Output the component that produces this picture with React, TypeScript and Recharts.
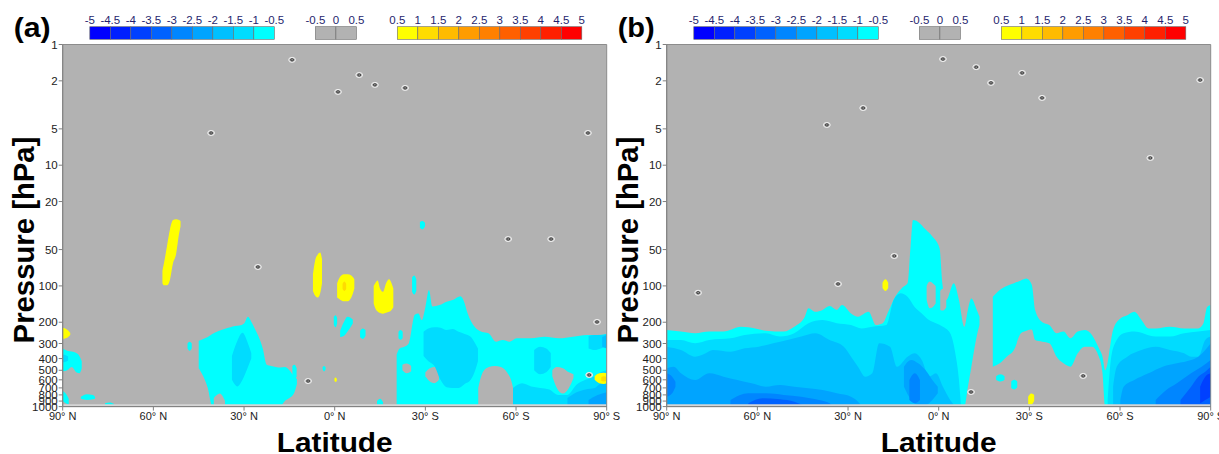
import React from 'react';
import { ComposedChart, Area, XAxis, YAxis, CartesianGrid, Scatter, ReferenceArea } from 'recharts';

type Pt = [number, number, number]; // [latitude, lower pressure (bottom), upper pressure (top)]

const FONT = "'Liberation Sans', Arial, Helvetica, sans-serif";
const GRAY = '#b2b2b2';

const LAT_TICKS = [90, 60, 30, 0, -30, -60, -90];
const P_TICKS = [1, 2, 5, 10, 20, 50, 100, 200, 300, 400, 500, 600, 700, 800, 900, 1000];

const NEG_LABELS = ['-5', '-4.5', '-4', '-3.5', '-3', '-2.5', '-2', '-1.5', '-1', '-0.5'];
const NEG_COLORS = ['#0000ff', '#0020ff', '#0040ff', '#0062ff', '#0086ff', '#00a4ff', '#00c0ff', '#00dcff', '#00ffff'];
const MID_LABELS = ['-0.5', '0', '0.5'];
const MID_COLORS = [GRAY, GRAY];
const POS_LABELS = ['0.5', '1', '1.5', '2', '2.5', '3', '3.5', '4', '4.5', '5'];
const POS_COLORS = ['#ffff00', '#ffdc00', '#ffbb00', '#ff9c00', '#ff8000', '#ff6000', '#ff4000', '#ff2000', '#ff0000'];

// ---------------- Panel (a) ----------------
const A_CYAN: Pt[][] = [
  [[90, 510, 330], [88.5, 500, 345], [87, 470, 350], [85.5, 520, 360], [84.5, 530, 380], [83.7, 480, 420]],
  [[90, 900, 740], [89, 940, 780], [88, 960, 860]],
  [[84, 860, 830], [82, 880, 790], [80, 870, 800], [79.3, 860, 830]],
  [[76, 990, 940], [74.5, 1000, 925], [73, 990, 950]],
  [[48.7, 330, 300], [48, 345, 290], [47.3, 330, 300]],
  [[45.0, 480, 285], [43.5, 560, 275], [42.0, 700, 265], [40.5, 1000, 250], [39.0, 1000, 240], [37.5, 1000, 232],
   [36.0, 1000, 225], [34.5, 1000, 220], [33.0, 1000, 215], [31.5, 1000, 213], [30.0, 1000, 205], [28.7, 1000, 180],
   [27.5, 1000, 200], [26.3, 1000, 230], [25.0, 1000, 270], [23.8, 1000, 330], [22.5, 1000, 450], [21.0, 1000, 460],
   [19.5, 1000, 470], [18.0, 1000, 475], [16.5, 900, 470], [15.0, 850, 500], [13.5, 780, 560], [12.5, 650, 590]],
  [[14, 560, 460], [13.3, 600, 450], [12.6, 560, 480]],
  [[4, 490, 470], [3.5, 510, 460], [3, 490, 475]],
  [[0.3, 210, 180], [-0.3, 220, 175], [-0.8, 205, 185]],
  [[-1.8, 265, 235], [-3, 260, 200], [-4.2, 240, 180], [-5.5, 215, 185], [-6, 205, 190]],
  [[-8.4, 265, 235], [-9.3, 275, 225], [-10.2, 260, 232]],
  [[-14, 1000, 900], [-15, 1000, 860], [-16, 1000, 920]],
  [[-21.1, 272, 240], [-21.8, 280, 232], [-22.5, 270, 240]],
  [[-25.6, 112, 85], [-26.3, 118, 82], [-27, 110, 88]],
  [[-28.2, 33, 29.5], [-29, 34, 29], [-29.9, 32, 30]],
  [[-20.5, 1000, 370], [-21.5, 1000, 330], [-23, 1000, 320], [-24.5, 1000, 300], [-26.5, 1000, 173], [-27.7, 1000, 169],
   [-28.8, 1000, 192], [-30, 1000, 150], [-31.2, 1000, 108], [-32.3, 1000, 148], [-34.7, 1000, 144], [-37, 1000, 135],
   [-39.3, 1000, 130], [-41.6, 1000, 122], [-42.8, 1000, 135], [-44, 1000, 169], [-46.3, 1000, 218], [-48.6, 1000, 240],
   [-50.9, 1000, 247], [-53.3, 1000, 290], [-55.6, 1000, 281], [-57.9, 1000, 290], [-60.2, 1000, 272], [-64.9, 1000, 272],
   [-69.5, 1000, 264], [-74.2, 1000, 272], [-78.8, 1000, 264], [-83.5, 1000, 255], [-87, 1000, 255], [-90, 1000, 250]],
];
const A_GAPS: Pt[][] = [
  [[40, 1000, 850], [38, 1000, 780], [36.3, 1000, 900]],
  [[-22.4, 500, 450], [-23.8, 530, 440], [-25.3, 510, 460]],
  [[-30, 560, 520], [-31.5, 620, 480], [-33, 640, 470], [-34.5, 600, 500]],
  [[-47.5, 1000, 700], [-49, 1000, 520], [-51, 1000, 470], [-53, 1000, 460], [-55, 1000, 470], [-57, 1000, 520], [-58.5, 1000, 620], [-59.5, 1000, 800]],
  [[-72, 560, 500], [-73.5, 700, 470], [-75.5, 780, 480], [-77.5, 700, 520], [-79, 580, 540]],
];
const A_L2: Pt[][] = [
  [[90, 430, 370], [89, 425, 375], [88.2, 415, 385]],
  [[34, 600, 380], [32.2, 680, 285], [30.5, 600, 245], [28.7, 470, 300], [27.6, 400, 360]],
  [[-29.4, 380, 240], [-31, 420, 225], [-33, 460, 220], [-35, 600, 222], [-37, 690, 232], [-39, 700, 228], [-41, 700, 240],
   [-43, 650, 250], [-45, 600, 264], [-46.5, 500, 300], [-47.4, 420, 330]],
  [[-66, 500, 340], [-68, 540, 320], [-70, 520, 330], [-71.5, 470, 360]],
  [[-84, 330, 260], [-86, 340, 255], [-88, 330, 255], [-90, 320, 250]],
  [[-59, 1000, 700], [-62, 1000, 640], [-65, 1000, 680], [-68, 1000, 700], [-71, 1000, 720], [-74, 1000, 800], [-77, 1000, 800],
   [-80, 1000, 660], [-83, 1000, 600], [-86, 1000, 560], [-88, 1000, 520], [-90, 1000, 500]],
];
const A_L3: Pt[][] = [
  [[-77, 1000, 850], [-80, 1000, 760], [-83, 1000, 720], [-86, 1000, 700], [-88, 1000, 640], [-90, 1000, 600]],
  [[-88.5, 320, 265], [-90, 330, 255]],
];
const A_L4: Pt[][] = [
  [[-84, 1000, 880], [-87, 1000, 800], [-90, 1000, 760]],
];
const A_YELLOW: Pt[][] = [
  [[57, 95, 75], [56.5, 99, 65], [55.5, 99, 47], [54.5, 89, 34], [53.5, 65, 28.5], [52.5, 55, 28], [51.5, 37, 28.5], [51, 32, 29]],
  [[7.2, 110, 80], [6.5, 120, 62], [5.6, 125, 55], [4.8, 115, 53], [4.2, 95, 60]],
  [[-0.8, 125, 95], [-1.8, 130, 84], [-3, 134, 80], [-4.3, 134, 80], [-5.5, 125, 82], [-6.5, 105, 88]],
  [[-12.9, 140, 100], [-13.5, 155, 94], [-14.2, 163, 90], [-15, 168, 105], [-16, 170, 112], [-17, 167, 95], [-18, 164, 88], [-18.8, 158, 95], [-19.4, 150, 105]],
  [[90, 275, 222], [89, 272, 226], [88, 262, 236], [87.5, 255, 245]],
  [[0.1, 615, 585], [-0.3, 625, 575], [-0.7, 610, 590]],
  [[-86, 600, 560], [-87.5, 640, 530], [-89, 650, 525], [-90, 640, 530]],
];
const A_ORANGE: Pt[][] = [
  [[-2.6, 106, 96], [-3.2, 110, 92], [-3.8, 106, 96]],
  [[-88.2, 610, 570], [-89, 620, 560], [-90, 610, 565]],
];
const A_ZERO_LAT = [14.1, -8.1, -1.1, -13.3, -23.3, 40.9, -83.8, -57.4, -71.6, 25.4, -86.8, 8.8, -84.2];
const A_ZERO_P = [1.34, 1.79, 2.47, 2.16, 2.29, 5.41, 5.41, 40.9, 40.9, 69.7, 199, 614, 547];

// ---------------- Panel (b) ----------------
const B_CYAN: Pt[][] = [
  [[90, 1000, 232], [85.3, 1000, 239], [80.6, 1000, 247], [75.9, 1000, 239], [71.2, 1000, 239], [65.4, 1000, 218], [60.7, 1000, 225],
   [57.2, 1000, 235], [51.3, 1000, 239], [47.8, 1000, 218], [44.3, 1000, 180], [43.1, 1000, 153], [40.8, 1000, 164], [38.4, 1000, 158],
   [36.1, 1000, 147], [33.7, 1000, 158], [32.0, 1000, 144], [29.0, 1000, 169], [26.7, 1000, 180], [23.2, 1000, 164], [20.8, 1000, 211],
   [18.5, 1000, 204], [16.7, 1000, 164], [14.4, 1000, 123], [12.0, 1000, 103], [10.3, 1000, 95], [9.3, 1000, 47], [8.5, 1000, 28.5],
   [6.8, 1000, 29.5], [4.4, 1000, 34], [2.1, 1000, 39], [-0.3, 1000, 49], [-1.2, 1000, 95], [-2.5, 1000, 131], [-5.0, 1000, 95],
   [-6.7, 1000, 131], [-8.5, 1000, 218], [-9.6, 700, 160], [-10.8, 470, 127], [-12.6, 260, 158], [-13.5, 210, 180]],
  [[-17.9, 467, 123], [-20.2, 438, 108], [-22.5, 386, 100], [-24.9, 340, 95], [-27.2, 247, 90], [-29.0, 235, 87], [-30.8, 230, 98],
   [-31.9, 281, 158], [-34.3, 290, 200], [-36.6, 299, 211], [-39.0, 386, 247], [-41.3, 438, 239], [-43.6, 467, 272], [-46.0, 362, 239],
   [-48.3, 319, 232], [-50.7, 319, 255], [-53.0, 386, 329], [-54.2, 530, 386], [-55.1, 1000, 500], [-57.7, 1000, 232], [-60.1, 1000, 186],
   [-62.4, 1000, 175], [-64.7, 1000, 164], [-67.1, 1000, 192], [-69.4, 1000, 225], [-71.8, 1000, 225], [-76.5, 1000, 218],
   [-81.2, 1000, 225], [-85.9, 1000, 225], [-87.6, 1000, 204], [-88.8, 1000, 150], [-90, 1000, 144]],
  [[-19.0, 602, 560], [-20.5, 620, 540], [-21.8, 600, 560]],
  [[-24.0, 700, 620], [-25.0, 720, 600], [-26.0, 690, 620]],
];
const B_GAPS: Pt[][] = [
  [[4.0, 130, 100], [3.0, 153, 92], [2.0, 150, 95], [1.0, 140, 100]],
  [[-0.5, 158, 110], [-1.5, 160, 105], [-2.5, 150, 115]],
];
const B_L2: Pt[][] = [
  [[90, 1000, 281], [85.3, 1000, 281], [80.6, 1000, 299], [75.9, 1000, 281], [68.9, 1000, 272], [64.2, 1000, 255], [57.2, 1000, 247],
   [52.5, 1000, 263], [47.8, 1000, 247], [43.1, 1000, 204], [38.4, 1000, 192], [33.7, 1000, 204], [29.0, 1000, 211], [25.5, 1000, 225],
   [22.0, 1000, 218], [17.3, 1000, 211], [14.9, 1000, 131], [12.6, 1000, 115], [10.3, 1000, 123], [7.9, 1000, 150], [5.6, 1000, 169],
   [3.2, 1000, 192], [0.9, 1000, 204], [-1.4, 1000, 218], [-3.8, 1000, 247], [-5.5, 1000, 362], [-6.7, 1000, 602], [-7.3, 1000, 939]],
  [[-55.9, 1000, 881], [-57.1, 1000, 386], [-58.9, 1000, 281], [-61.2, 1000, 247], [-64.7, 1000, 239], [-71.8, 1000, 263],
   [-76.5, 1000, 263], [-81.2, 1000, 247], [-85.9, 1000, 239], [-90, 1000, 232]],
];
const B_L3: Pt[][] = [
  [[90, 1000, 319], [85.3, 1000, 340], [80.6, 1000, 386], [77.1, 1000, 362], [74.8, 1000, 340], [68.9, 1000, 351], [64.2, 1000, 329],
   [59.5, 1000, 319], [54.8, 1000, 299], [50.1, 1000, 281], [45.5, 1000, 263], [40.8, 1000, 247], [36.1, 1000, 281], [31.4, 1000, 319],
   [29.0, 1000, 386], [26.7, 1000, 467], [24.3, 1000, 565], [22.0, 1000, 530], [19.7, 1000, 299], [16.1, 1000, 319], [13.8, 1000, 467],
   [10.3, 1000, 386], [7.9, 1000, 362], [5.6, 1000, 411], [3.2, 1000, 565], [0.9, 1000, 530], [-1.4, 1000, 684], [-3.8, 1000, 881], [-5.0, 1000, 970]],
  [[-57.7, 1000, 684], [-58.9, 1000, 467], [-62.4, 1000, 386], [-67.1, 1000, 340], [-71.8, 1000, 319], [-76.5, 1000, 340],
   [-81.2, 1000, 362], [-83.5, 1000, 386], [-85.9, 1000, 386], [-88.2, 1000, 281], [-90, 1000, 263]],
];
const B_L4: Pt[][] = [
  [[90, 1000, 482], [87.7, 1000, 467], [85.3, 1000, 530], [80.6, 1000, 602], [75.9, 1000, 530], [71.2, 1000, 565], [66.6, 1000, 602],
   [61.9, 1000, 641], [57.2, 1000, 684], [52.5, 1000, 662], [47.8, 1000, 684], [43.1, 1000, 706], [38.4, 1000, 728], [33.7, 1000, 776],
   [29.0, 1000, 827], [26.7, 1000, 910], [25.5, 1000, 990]],
  [[11.5, 684, 467], [9.1, 881, 411], [6.8, 970, 438], [4.4, 970, 498], [2.1, 881, 602], [0.3, 776, 684]],
  [[-60.1, 1000, 881], [-61.2, 1000, 684], [-64.7, 1000, 602], [-69.4, 1000, 530], [-74.1, 1000, 467], [-78.8, 1000, 438],
   [-83.5, 1000, 411], [-85.9, 1000, 386], [-88.2, 1000, 340], [-90, 1000, 299]],
];
const B_L5: Pt[][] = [
  [[90, 827, 530], [88.2, 776, 565], [87.1, 684, 621]],
  [[68.9, 1000, 881], [63.0, 1000, 776], [57.2, 1000, 776], [51.3, 1000, 800], [45.5, 1000, 827], [39.6, 1000, 881], [36.1, 1000, 939], [35, 1000, 990]],
  [[9.7, 881, 602], [7.9, 939, 530], [6.2, 881, 602]],
  [[-71.8, 1000, 881], [-75.3, 1000, 728], [-78.8, 1000, 641], [-83.5, 1000, 530], [-87.0, 1000, 467], [-90, 1000, 411]],
];
const B_L6: Pt[][] = [
  [[63, 1000, 939], [58.3, 1000, 854], [52.5, 1000, 870], [47.8, 1000, 910], [44.3, 1000, 990]],
  [[-80, 1000, 881], [-83.5, 1000, 684], [-85.9, 1000, 565], [-88.2, 1000, 514], [-90, 1000, 467]],
];
const B_L7: Pt[][] = [
  [[-86.5, 939, 684], [-88.2, 881, 565], [-90, 827, 530]],
];
const B_YELLOW: Pt[][] = [
  [[18.6, 104, 94], [17.6, 110, 88], [16.7, 104, 94]],
  [[-29.6, 950, 830], [-30.6, 965, 780], [-31.6, 900, 800]],
];
const B_ZERO_LAT = [-1.4, -12.4, -27.6, -17.3, -34.2, 25, 37, -86.5, -70, 79.6, 33.3, 14.7, -10.7, -47.8];
const B_ZERO_P = [1.32, 1.54, 1.72, 2.08, 2.77, 3.36, 4.64, 1.97, 8.71, 114, 96.4, 56.5, 757, 557];

// level: -1..-7 = negative bands (cyan → blue), 0 = gray gap, 1..2 = positive bands
function levelColor(level: number): string {
  if (level === 0) return GRAY;
  if (level < 0) return NEG_COLORS[NEG_COLORS.length + level];
  return POS_COLORS[level - 1];
}

type Layer = { level: number; patches: Pt[][] };

const PANEL_A: Layer[] = [
  { level: -1, patches: A_CYAN },
  { level: 0, patches: A_GAPS },
  { level: -2, patches: A_L2 },
  { level: -3, patches: A_L3 },
  { level: -4, patches: A_L4 },
  { level: 1, patches: A_YELLOW },
  { level: 2, patches: A_ORANGE },
];
const PANEL_B: Layer[] = [
  { level: -1, patches: B_CYAN },
  { level: 0, patches: B_GAPS },
  { level: -2, patches: B_L2 },
  { level: -3, patches: B_L3 },
  { level: -4, patches: B_L4 },
  { level: -5, patches: B_L5 },
  { level: -6, patches: B_L6 },
  { level: -7, patches: B_L7 },
  { level: 1, patches: B_YELLOW },
];

const fmtLat = (v: number) => (v > 0 ? `${v}° N` : v < 0 ? `${-v}° S` : '0° N');

const ZeroMark = (props: any) => {
  const { cx, cy } = props;
  if (cx == null || cy == null) return null;
  return (
    <g>
      <ellipse cx={cx} cy={cy} rx={3.4} ry={2.5} fill={GRAY} stroke="#f2f2f2" strokeWidth={1} />
      <ellipse cx={cx} cy={cy} rx={1.5} ry={1.1} fill="none" stroke="#2a2a2a" strokeWidth={0.9} />
    </g>
  );
};

function Panel({ layers, zeroLat, zeroP }: { layers: Layer[]; zeroLat: number[]; zeroP: number[] }) {
  const zeros = zeroLat.map((lat, i) => ({ lat, p: zeroP[i] }));
  const areas: React.ReactNode[] = [];
  layers.forEach((layer, li) => {
    layer.patches.forEach((patch, pi) => {
      const data = [...patch]
        .sort((a, b) => b[0] - a[0])
        .map(([lat, lo, hi]) => ({ lat, v: [lo, hi] }));
      areas.push(
        <Area
          key={`${li}-${pi}`}
          data={data}
          dataKey="v"
          type="monotone"
          fill={levelColor(layer.level)}
          fillOpacity={1}
          stroke="none"
          dot={false}
          activeDot={false}
          legendType="none"
          isAnimationActive={false}
        />
      );
    });
  });
  return (
    <ComposedChart width={625} height={454} margin={{ top: 44.5, right: 18.3, bottom: 27.4, left: 0 }}>
      <CartesianGrid fill={GRAY} stroke="none" horizontal={false} vertical={false} />
      <XAxis
        dataKey="lat"
        type="number"
        domain={[-90, 90]}
        reversed
        allowDataOverflow
        ticks={LAT_TICKS}
        interval={0}
        tickFormatter={fmtLat}
        height={20}
        tickSize={4}
        tickMargin={2}
        axisLine={{ stroke: '#808080' }}
        tickLine={{ stroke: '#808080' }}
        tick={{ fontSize: 11, fill: '#222', fontFamily: FONT }}
      />
      <YAxis
        type="number"
        scale="log"
        domain={[1, 1000]}
        reversed
        allowDataOverflow
        ticks={P_TICKS}
        interval={0}
        width={62.7}
        tickSize={4}
        tickMargin={1}
        axisLine={{ stroke: '#808080' }}
        tickLine={{ stroke: '#808080' }}
        tick={{ fontSize: 11.5, fill: '#222', fontFamily: FONT }}
      />
      {areas}
      <ReferenceArea x1={90} x2={-90} y1={958} y2={1000} fill="#d4d4d4" fillOpacity={1} stroke="none" ifOverflow="hidden" />
      <ReferenceArea x1={90} x2={-90} y1={1} y2={1000} fill="none" stroke="#8c8c8c" strokeWidth={1} ifOverflow="visible" />
      <Scatter data={zeros} dataKey="p" shape={ZeroMark} isAnimationActive={false} legendType="none" />
    </ComposedChart>
  );
}

function ColorBar({ x, colors, labels }: { x: number; colors: string[]; labels: string[] }) {
  const w = 20.5;
  return (
    <g>
      {colors.map((c, i) => (
        <rect key={i} x={x + i * w} y={26.7} width={w} height={12.6} fill={c} stroke="#6a6a6a" strokeWidth={0.6} />
      ))}
      {labels.map((t, i) => (
        <text key={t + i} x={x + i * w} y={24} textAnchor="middle" fontSize={11.5} fill="#1f1f6e" fontFamily={FONT}>
          {t}
        </text>
      ))}
    </g>
  );
}

function Decor({ ox, tag }: { ox: number; tag: string }) {
  return (
    <g>
      <text x={ox + 13.7} y={37} fontSize={27} fontWeight="bold" fontFamily={FONT} textLength={37} lengthAdjust="spacingAndGlyphs" fill="#000">
        {tag}
      </text>
      <ColorBar x={ox + 89.8} colors={NEG_COLORS} labels={NEG_LABELS} />
      <ColorBar x={ox + 315.4} colors={MID_COLORS} labels={MID_LABELS} />
      <ColorBar x={ox + 397.3} colors={POS_COLORS} labels={POS_LABELS} />
      <text
        transform={`translate(${ox + 33.5},240) rotate(-90)`}
        textAnchor="middle"
        fontSize={29.3}
        fontWeight="bold"
        fontFamily={FONT}
        fill="#000"
      >
        Pressure [hPa]
      </text>
      <text
        x={ox + 334.7}
        y={452}
        textAnchor="middle"
        fontSize={28.5}
        fontWeight="bold"
        fontFamily={FONT}
        textLength={116}
        lengthAdjust="spacingAndGlyphs"
        fill="#000"
      >
        Latitude
      </text>
    </g>
  );
}

export default function App() {
  return (
    <div style={{ position: 'absolute', left: 0, top: 0, width: 1219, height: 454, background: '#fff', overflow: 'hidden', fontFamily: FONT }}>
      <div style={{ position: 'absolute', left: 0, top: 0 }}>
        <Panel layers={PANEL_A} zeroLat={A_ZERO_LAT} zeroP={A_ZERO_P} />
      </div>
      <div style={{ position: 'absolute', left: 604, top: 0 }}>
        <Panel layers={PANEL_B} zeroLat={B_ZERO_LAT} zeroP={B_ZERO_P} />
      </div>
      <svg width={1219} height={454} style={{ position: 'absolute', left: 0, top: 0, pointerEvents: 'none' }}>
        <Decor ox={0} tag="(a)" />
        <Decor ox={604} tag="(b)" />
      </svg>
    </div>
  );
}
